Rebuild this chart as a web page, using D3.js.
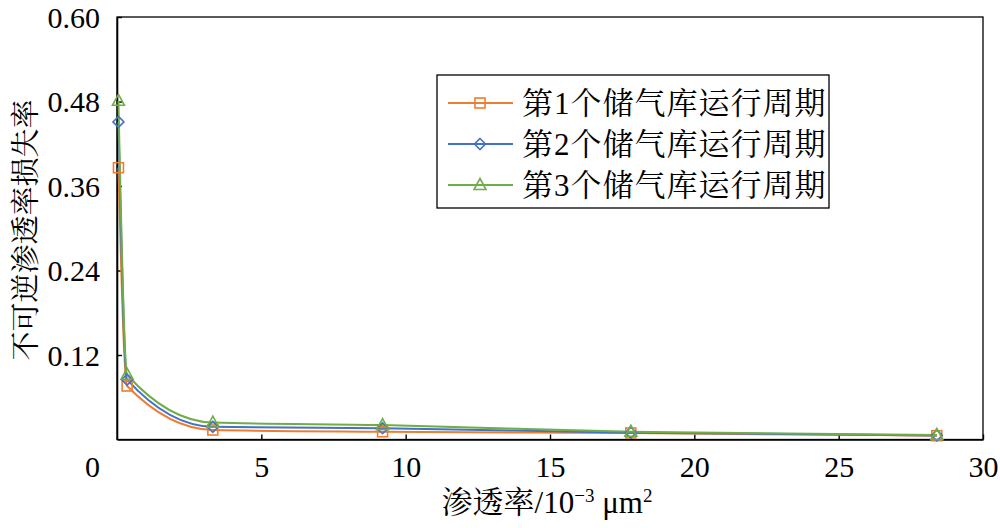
<!DOCTYPE html>
<html><head><meta charset="utf-8">
<script src="https://cdn.jsdelivr.net/npm/d3@7"></script>
<style>
html,body{margin:0;padding:0;background:#fff;}
</style>
</head><body>
<svg id="chart" width="1000" height="528"></svg>
<script>
const permeability = [0.05, 0.35, 3.32, 9.2, 17.8, 28.4];
const cycle1 = [0.386, 0.076, 0.0135, 0.011, 0.0092, 0.0054];
const cycle2 = [0.451, 0.085, 0.018, 0.016, 0.0097, 0.0058];
const cycle3 = [0.481, 0.092, 0.024, 0.0205, 0.011, 0.0064];
const seriesNames = ["第1个储气库运行周期", "第2个储气库运行周期", "第3个储气库运行周期"];
const xTicks = [5, 10, 15, 20, 25, 30];
const yTicks = [0.12, 0.24, 0.36, 0.48, 0.60];
const yTickLabels = ["0.12", "0.24", "0.36", "0.48", "0.60"];

const colors = ["#ED7D31", "#4472C4", "#70AD47"];
const markers = ["square", "diamond", "triangle"];
const LAT = '"Liberation Serif"';
const CJK = '"Noto Serif CJK SC"';

function setFont(sel, fam) { return sel.attr("font-family", fam.replace(/"/g, "")).style("font-family", fam); }

function richText(sel, str) {
  const runs = str.match(/[\u2E80-\u9FFF\uFF00-\uFFEF]+|[^\u2E80-\u9FFF\uFF00-\uFFEF]+/g) || [];
  runs.forEach(r => {
    const isCJK = /[\u2E80-\u9FFF\uFF00-\uFFEF]/.test(r);
    setFont(sel.append("tspan"), isCJK ? CJK : LAT).text(r);
  });
  return sel;
}

const svg = d3.select("#chart");
const L = 117, R = 983, T = 17, B = 439.5;
const x = d3.scaleLinear().domain([0, 30]).range([L, R]);
const y = d3.scaleLinear().domain([0, 0.6]).range([B, T]);

// frame
svg.append("rect").attr("x", L).attr("y", T).attr("width", R - L).attr("height", B - T)
  .attr("fill", "none").attr("stroke", "#000").attr("stroke-width", 1.3);

// x axis
const gx = svg.append("g").attr("transform", `translate(0,${B})`)
  .call(d3.axisBottom(x).tickValues(xTicks).tickSizeInner(-5).tickSizeOuter(0).tickFormat(d3.format("d")));
gx.attr("font-family", null);
gx.select(".domain").attr("stroke-width", 1.6);
gx.selectAll(".tick line").attr("stroke-width", 1.4);
setFont(gx.selectAll(".tick text"), LAT).attr("y", 37).attr("dy", null)
  .style("font-size", "30px").attr("fill", "#000");

// y axis
const gy = svg.append("g").attr("transform", `translate(${L},0)`)
  .call(d3.axisLeft(y).tickValues(yTicks).tickSizeInner(-5).tickSizeOuter(0)
    .tickFormat((d, i) => yTickLabels[i]));
gy.attr("font-family", null);
gy.select(".domain").attr("stroke-width", 1.6);
gy.selectAll(".tick line").attr("stroke-width", 1.4);
setFont(gy.selectAll(".tick text"), LAT).attr("x", -17).attr("dy", null).attr("y", 10)
  .style("font-size", "30px").attr("fill", "#000");

// origin label
setFont(svg.append("text"), LAT).attr("x", 100).attr("y", 477)
  .attr("text-anchor", "end").style("font-size", "30px").text("0");

// axis titles
setFont(svg.append("text"), CJK).attr("transform", "translate(36,230) rotate(-90)")
  .attr("text-anchor", "middle").style("font-size", "29px").text("不可逆渗透率损失率");

const xt = svg.append("text").attr("x", 547).attr("y", 513)
  .attr("text-anchor", "middle").style("font-size", "31px");
setFont(xt.append("tspan"), CJK).text("渗透率");
setFont(xt.append("tspan"), LAT).text("/10");
setFont(xt.append("tspan"), LAT).attr("dy", -11).style("font-size", "19px").text("−3");
setFont(xt.append("tspan"), LAT).attr("dy", 11).text(" μm");
setFont(xt.append("tspan"), LAT).attr("dy", -11).style("font-size", "19px").text("2");

// marker drawing
function drawMarker(g, type, cx, cy, color) {
  if (type === "square") {
    g.append("rect").attr("x", cx - 5).attr("y", cy - 5).attr("width", 10).attr("height", 10)
      .attr("fill", "none").attr("stroke", color).attr("stroke-width", 1.6);
  } else if (type === "diamond") {
    g.append("path").attr("d", `M${cx},${cy - 5.5}L${cx + 5.5},${cy}L${cx},${cy + 5.5}L${cx - 5.5},${cy}Z`)
      .attr("fill", "none").attr("stroke", color).attr("stroke-width", 1.6);
  } else {
    g.append("path").attr("d", `M${cx},${cy - 6.5}L${cx + 6},${cy + 4.5}L${cx - 6},${cy + 4.5}Z`)
      .attr("fill", "none").attr("stroke", color).attr("stroke-width", 1.6);
  }
}

const allSeries = [cycle1, cycle2, cycle3];
const line = d3.line().x(d => x(d[0])).y(d => y(d[1])).curve(d3.curveMonotoneX);
allSeries.forEach((vals, i) => {
  const pts = permeability.map((k, j) => [k, vals[j]]);
  svg.append("path").datum(pts).attr("d", line)
    .attr("fill", "none").attr("stroke", colors[i]).attr("stroke-width", 2);
});
allSeries.forEach((vals, i) => {
  const g = svg.append("g");
  permeability.forEach((k, j) => drawMarker(g, markers[i], x(k), y(vals[j]), colors[i]));
});

// legend
const lg = svg.append("g");
lg.append("rect").attr("x", 437).attr("y", 75).attr("width", 392).attr("height", 133)
  .attr("fill", "#fff").attr("stroke", "#000").attr("stroke-width", 1.3);
const rowY = [103, 144, 185];
seriesNames.forEach((name, i) => {
  lg.append("line").attr("x1", 448).attr("x2", 513).attr("y1", rowY[i]).attr("y2", rowY[i])
    .attr("stroke", colors[i]).attr("stroke-width", 2);
  drawMarker(lg, markers[i], 480, rowY[i], colors[i]);
  const t = lg.append("text").attr("x", 522).attr("y", rowY[i] + 11)
    .style("font-size", "31px").style("letter-spacing", "1px");
  richText(t, name);
});
</script>
</body></html>
